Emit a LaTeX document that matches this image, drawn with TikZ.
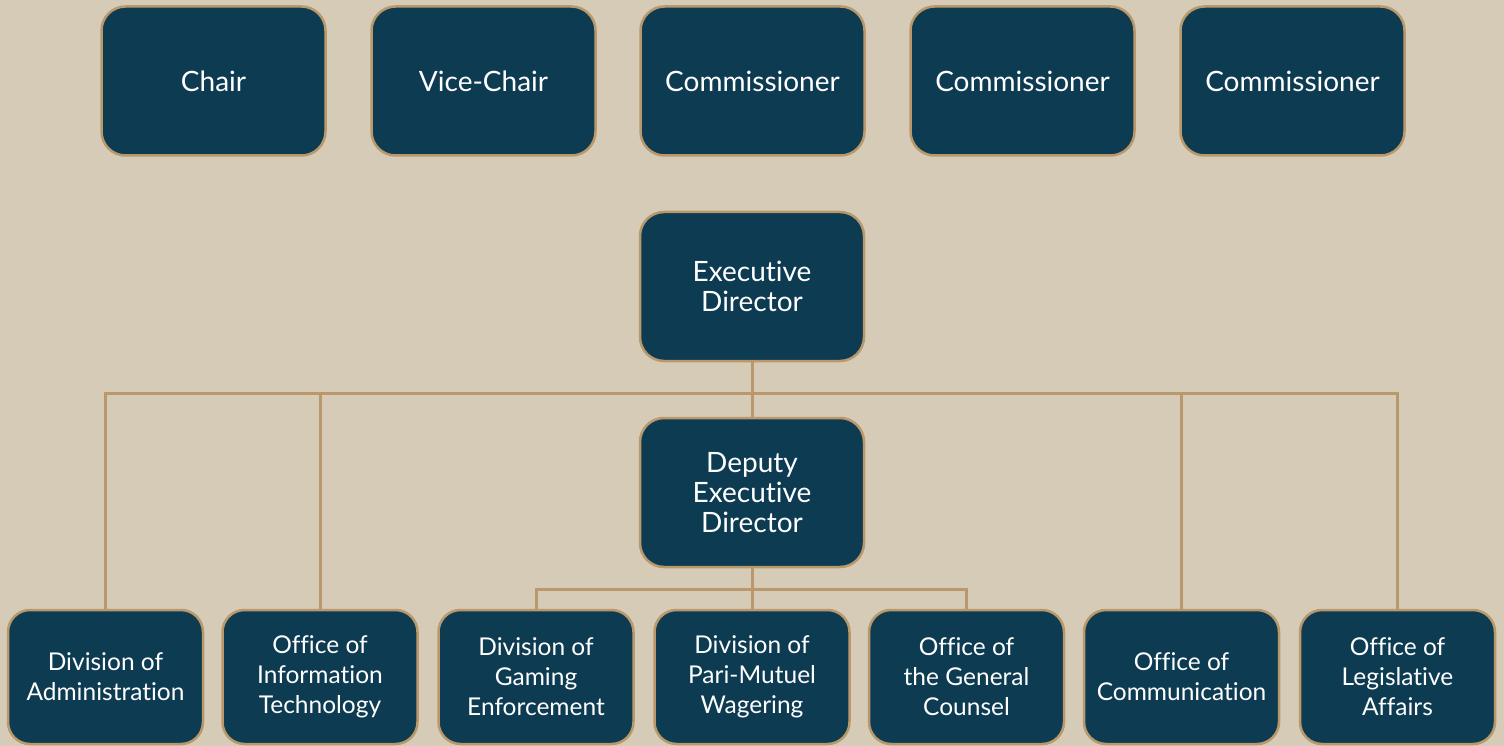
\documentclass[tikz,border=0pt]{standalone}
\usepackage{fontspec}
\setmainfont{Lato}[Ligatures={NoCommon}]
\usetikzlibrary{positioning}
\definecolor{navy}{HTML}{0D3B52}
\definecolor{tan}{HTML}{B9996B}
\definecolor{paper}{HTML}{D5CBB7}

\begin{document}
\begin{tikzpicture}[x=1pt,y=-1pt]
			\fill[paper] (0,0) rectangle (1504,746);
			\useasboundingbox (0,0) rectangle (1504,746);

			\begin{scope}[every node/.style={draw=tan,line width=2.5pt,fill=navy,text=white,
				rounded corners=24pt,minimum width=224pt,minimum height=149pt,
				inner sep=0pt,align=center,font=\fontsize{28}{30}\selectfont}]
				\node (chair) at (213.5,81) {Chair};
				\node (vice) at (483.5,81) {Vice-Chair};
				\node (com1) at (752.5,81) {Commissioner};
				\node (com2) at (1022.5,81) {Commissioner};
				\node (com3) at (1292.5,81) {Commissioner};
				\node (ed) at (752,286.5) {Executive\\Director};
				\node (dep) at (752,492.5) {Deputy\\Executive\\Director};
			\end{scope}

			\begin{scope}[every node/.style={draw=tan,line width=2.5pt,fill=navy,text=white,
				rounded corners=22pt,minimum width=195pt,minimum height=134pt,
				inner sep=0pt,align=center,font=\fontsize{24.5}{30}\selectfont}]
				\node (admin) at (105.5,677) {Division of\\Administration};
				\node (it) at (320,677) {Office of\\Information\\Technology};
				\node (gaming) at (536,677) {Division of\\Gaming\\Enforcement};
				\node (pari) at (752,677) {Division of\\Pari-Mutuel\\Wagering};
				\node (counsel) at (966.5,677) {Office of\\the General\\Counsel};
				\node (comm) at (1181.5,677) {Office of\\Communication};
				\node (leg) at (1397.5,677) {Office of\\Legislative\\Affairs};
			\end{scope}

			\coordinate (bus) at (752,393);
			\coordinate (sub) at (752,589);

			\begin{scope}[every path/.style={draw=tan,line width=3pt}]
				\path (ed) -- (dep);
				\path (admin.north) |- (bus) -| (leg.north);
				\path (it.north) -- (it.north |- bus);
				\path (comm.north) -- (comm.north |- bus);
				\path (dep) -- (pari);
				\path (gaming.north) |- (sub) -| (counsel.north);
			\end{scope}
		\end{tikzpicture}
\end{document}
